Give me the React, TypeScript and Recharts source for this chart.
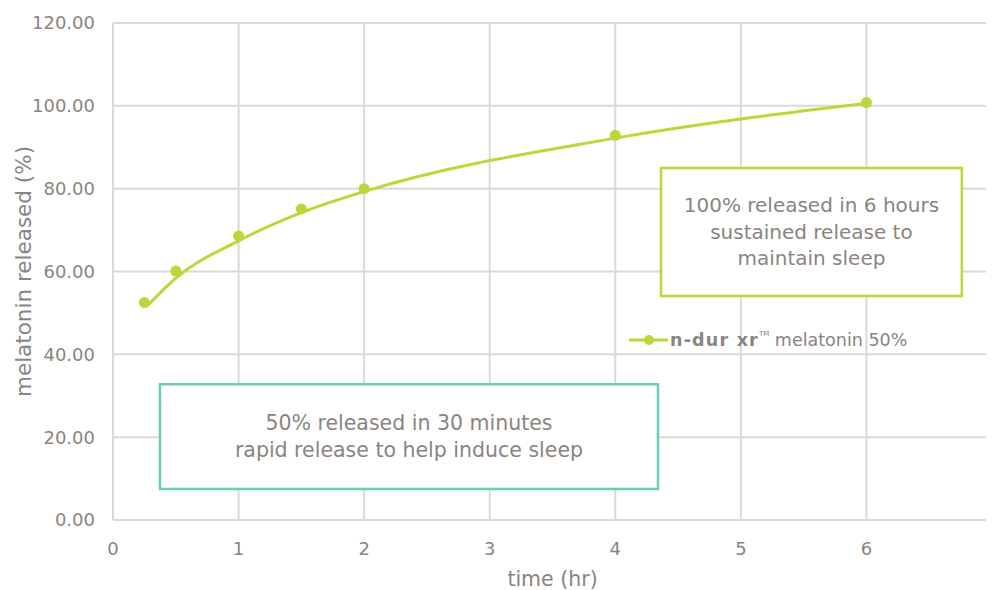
import React from "react";
import {
  ComposedChart,
  Line,
  Scatter,
  XAxis,
  YAxis,
  CartesianGrid,
  ReferenceArea,
  Legend,
} from "recharts";

const timeHours = [0.25, 0.5, 1, 1.5, 2, 4, 6];
const measuredPct = [52.5, 60.1, 68.6, 75.1, 80.0, 92.9, 100.8];
const curveTimes = [0.27, 0.5, 1, 1.5, 2, 4, 6];
const curvePct = [51.6, 58.4, 67.4, 74.2, 79.3, 92.2, 100.6];
const xTicks = [0, 1, 2, 3, 4, 5, 6, 7];
const yTicks = [0, 20, 40, 60, 80, 100, 120];

const boxTopText = ["100% released in 6 hours", "sustained release to", "maintain sleep"];
const boxBottomText = ["50% released in 30 minutes", "rapid release to help induce sleep"];

const FONT = "'DejaVu Sans', sans-serif";
const GRAY = "#8a8480";
const GREEN = "#bdd63a";
const TEAL = "#6ccbbb";
const GRID = "#dcd8d5";

const points = timeHours.map((t, i) => ({ t, v: measuredPct[i] }));
const curve = curveTimes.map((t, i) => ({ t, c: curvePct[i] }));

const BoxLabel = (lines: string[], lineH: number, size: number) => (props: any) => {
  const vb = props.viewBox || {};
  const cx = vb.x + vb.width / 2;
  const cy = vb.y + vb.height / 2;
  const start = cy - ((lines.length - 1) * lineH) / 2;
  return (
    <text
      x={cx}
      y={start}
      textAnchor="middle"
      dominantBaseline="central"
      fill={GRAY}
      fontFamily={FONT}
      fontSize={size}
    >
      {lines.map((l, i) => (
        <tspan key={i} x={cx} y={start + i * lineH} dominantBaseline="central">
          {l}
        </tspan>
      ))}
    </text>
  );
};

const LegendContent = () => (
  <svg width={330} height={24} style={{ overflow: "visible" }}>
    <line x1={0} y1={12} x2={39} y2={12} stroke={GREEN} strokeWidth={3} />
    <circle cx={20} cy={12} r={5} fill={GREEN} />
    <text x={41} y={12} dominantBaseline="central" fontFamily={FONT} fontSize={17.5} fill={GRAY}>
      <tspan fontWeight="bold" letterSpacing={1.2}>n-dur xr</tspan>
      <tspan fontSize={7} dy={-6}>TM</tspan>
      <tspan dy={6}> melatonin 50%</tspan>
    </text>
  </svg>
);

export default function App() {
  return (
    <div style={{ width: 986, height: 582, fontFamily: FONT }}>
      <ComposedChart
        width={986}
        height={582}
        margin={{ top: 15, right: 2, bottom: 0, left: 0 }}
      >
        <CartesianGrid stroke={GRID} strokeWidth={2} />
        <XAxis
          type="number"
          dataKey="t"
          domain={[0, 7]}
          ticks={xTicks}
          interval={0}
          allowDataOverflow
          axisLine={{ stroke: GRID, strokeWidth: 2 }}
          tickLine={false}
          tick={{ fill: GRAY, fontSize: 18, fontFamily: FONT, dy: 14 }}
          height={70}
          label={{
            value: "time (hr)",
            position: "insideBottom",
            offset: 4,
            fill: GRAY,
            fontSize: 20.5,
            fontFamily: FONT,
          }}
        />
        <YAxis
          type="number"
          domain={[0, 120]}
          ticks={yTicks}
          interval={0}
          width={105}
          axisLine={false}
          tickLine={false}
          tickFormatter={(v: number) => v.toFixed(2)}
          tick={{ fill: GRAY, fontSize: 18, fontFamily: FONT, dx: -10 }}
          label={{
            value: "melatonin released (%)",
            angle: -90,
            position: "insideLeft",
            offset: 15,
            style: { textAnchor: "middle" },
            fill: GRAY,
            fontSize: 21.5,
            fontFamily: FONT,
          }}
        />
        <ReferenceArea
          x1={4.364}
          x2={6.76}
          y1={54.1}
          y2={85.0}
          fill="#ffffff"
          fillOpacity={1}
          stroke={GREEN}
          strokeWidth={2.5}
          ifOverflow="visible"
          label={BoxLabel(boxTopText, 26.5, 20)}
        />
        <ReferenceArea
          x1={0.374}
          x2={4.34}
          y1={7.5}
          y2={32.8}
          fill="#ffffff"
          fillOpacity={1}
          stroke={TEAL}
          strokeWidth={2.5}
          ifOverflow="visible"
          label={BoxLabel(boxBottomText, 27, 20.5)}
        />
        <Line
          data={curve}
          dataKey="c"
          type="monotone"
          stroke={GREEN}
          strokeWidth={3}
          dot={false}
          activeDot={false}
          isAnimationActive={false}
          legendType="none"
        />
        <Scatter
          data={points}
          dataKey="v"
          fill={GREEN}
          shape={(p: any) => <circle cx={p.cx} cy={p.cy} r={5.5} fill={GREEN} />}
          isAnimationActive={false}
        />
        <Legend
          content={LegendContent}
          layout="horizontal"
          verticalAlign="middle"
          align="center"
          wrapperStyle={{ position: "absolute", left: 621, top: 320, width: 330 }}
        />
      </ComposedChart>
    </div>
  );
}
